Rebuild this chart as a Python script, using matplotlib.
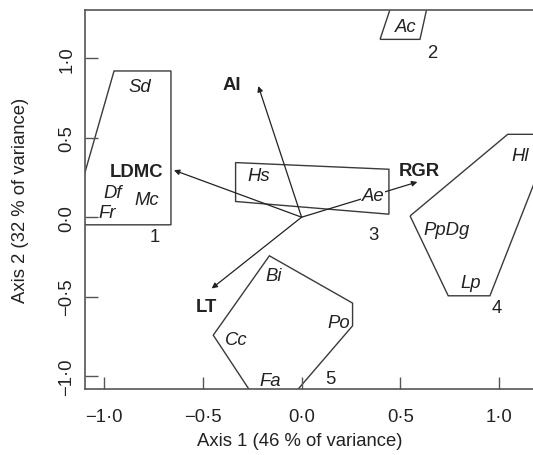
import numpy as np
import matplotlib.pyplot as plt
from matplotlib.patches import Polygon

plt.rcParams['font.family'] = ['Liberation Sans', 'DejaVu Sans']

# group outlines (convex hulls), axis 1 / axis 2 scores
hull1_x = [-1.12, -0.949, -0.661, -0.661, -1.12]
hull1_y = [0.179, 0.921, 0.921, -0.048, -0.048]
hull2_x = [0.397, 0.599, 0.649, 0.472]
hull2_y = [1.12, 1.12, 1.40, 1.40]
hull3_x = [-0.334, -0.334, 0.442, 0.442]
hull3_y = [0.344, 0.099, 0.019, 0.302]
hull4_x = [0.549, 1.043, 1.274, 0.953, 0.742]
hull4_y = [0.008, 0.522, 0.522, -0.495, -0.495]
hull5_x = [-0.163, 0.258, 0.258, -0.064, -0.231, -0.447]
hull5_y = [-0.243, -0.541, -0.684, -1.15, -1.15, -0.743]

group_ids = ['1', '2', '3', '4', '5']
group_x = [-0.741, 0.66, 0.363, 0.987, 0.147]
group_y = [-0.12, 1.038, -0.107, -0.568, -1.015]

species = ['Sd', 'Df', 'Mc', 'Fr', 'Ac', 'Hs', 'Ae', 'Hl', 'PpDg', 'Lp', 'Bi', 'Po', 'Cc', 'Fa']
sp_x = [-0.818, -0.954, -0.782, -0.985, 0.528, -0.219, 0.36, 1.105, 0.734, 0.856, -0.143, 0.186, -0.328, -0.16]
sp_y = [0.824, 0.157, 0.114, 0.031, 1.204, 0.264, 0.134, 0.386, -0.076, -0.411, -0.369, -0.663, -0.768, -1.026]

# trait vectors
traits = ['AI', 'LDMC', 'RGR', 'LT']
tip_x = [-0.219, -0.646, 0.586, -0.455]
tip_y = [0.826, 0.296, 0.222, -0.449]
lab_x = [-0.354, -0.834, 0.594, -0.48]
lab_y = [0.837, 0.285, 0.296, -0.562]

ticks = [-1.0, -0.5, 0.0, 0.5, 1.0]
tick_labels = ['\u22121\u00b70', '\u22120\u00b75', '0\u00b70', '0\u00b75', '1\u00b70']

lc = '#3a3a3a'
tc = '#222222'
fs = 13.3

fig = plt.figure(figsize=(5.33, 4.56), dpi=100)
ax = fig.add_axes([85 / 533, 66 / 456, 1 - 85 / 533, (390 - 11) / 456])

for hx, hy in [(hull1_x, hull1_y), (hull2_x, hull2_y), (hull3_x, hull3_y),
               (hull4_x, hull4_y), (hull5_x, hull5_y)]:
    ax.add_patch(Polygon(np.column_stack([hx, hy]), closed=True, fill=False,
                         edgecolor=lc, lw=1.0))

for i in range(len(traits)):
    ax.annotate('', xy=(tip_x[i], tip_y[i]), xytext=(0, 0),
                arrowprops=dict(arrowstyle='-|>', color='#222222', lw=0.9,
                                mutation_scale=8, shrinkA=0, shrinkB=0))
    ax.text(lab_x[i], lab_y[i], traits[i], fontsize=fs, fontweight='bold',
            color=tc, ha='center', va='center')

for i in range(len(species)):
    kw = {}
    if species[i] == 'Ae':
        kw['bbox'] = dict(facecolor='white', edgecolor='none', pad=0.5)
    ax.text(sp_x[i], sp_y[i], species[i], fontsize=fs, style='italic',
            color=tc, ha='center', va='center', **kw)

for i in range(len(group_ids)):
    ax.text(group_x[i], group_y[i], group_ids[i], fontsize=fs, color=tc,
            ha='center', va='center')

ax.set_xlim(-1.096, 1.171)
ax.set_ylim(-1.082, 1.305)
ax.set_xticks(ticks)
ax.set_xticklabels(tick_labels)
ax.set_yticks(ticks)
ax.set_yticklabels(tick_labels, rotation=90, va='center')
ax.tick_params(direction='in', length=9, width=1.0, color='#555555',
               labelsize=fs, labelcolor=tc)
ax.tick_params(axis='x', pad=14)
ax.tick_params(axis='y', pad=7)
for s in ['left', 'bottom', 'top']:
    ax.spines[s].set_color('#555555')
    ax.spines[s].set_linewidth(1.2)
ax.spines['right'].set_visible(False)

ax.set_xlabel('Axis 1 (46 % of variance)', fontsize=fs, color=tc)
ax.xaxis.set_label_coords((300 - 85) / 448, (390 - 433) / 379)
ax.set_ylabel('Axis 2 (32 % of variance)', fontsize=fs, color=tc)
ax.yaxis.set_label_coords((29 - 85) / 448, 0.5)

fig.savefig('out.png', dpi=100)
